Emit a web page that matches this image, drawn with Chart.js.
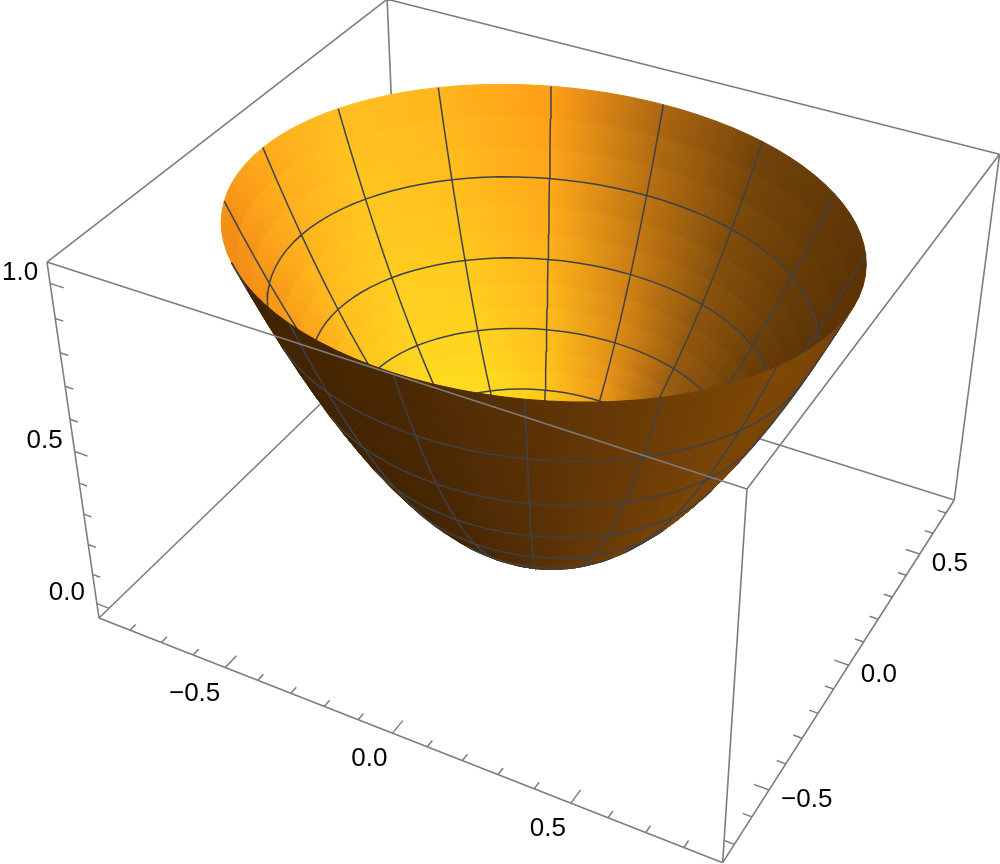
<!DOCTYPE html>
<html>
<head>
<meta charset="utf-8">
<title>Bowl</title>
<style>
  html, body { margin: 0; padding: 0; background: #fff; }
  canvas { display: block; }
</style>
<script src="https://cdn.jsdelivr.net/npm/chart.js@4"></script>
</head>
<body>
<canvas id="bowl" width="1000" height="864"></canvas>
<script>
// axis ranges of the box
const xRange = [-0.9, 0.9];
const yRange = [-0.765, 0.765];
const zRange = [-0.05, 1.06];

// ticks
const xTicks = [-0.8, -0.7, -0.6, -0.5, -0.4, -0.3, -0.2, -0.1, 0, 0.1, 0.2, 0.3, 0.4, 0.5, 0.6, 0.7, 0.8];
const yTicks = [-0.7, -0.6, -0.5, -0.4, -0.3, -0.2, -0.1, 0, 0.1, 0.2, 0.3, 0.4, 0.5, 0.6, 0.7];
const zTicks = [0, 0.1, 0.2, 0.3, 0.4, 0.5, 0.6, 0.7, 0.8, 0.9, 1];
const majorTicks = [-0.5, 0, 0.5, 1];
const xLabels = ['\u22120.5', '0.0', '0.5'];
const yLabels = ['\u22120.5', '0.0', '0.5'];
const zLabels = ['0.0', '0.5', '1.0'];
const xLabelValues = [-0.5, 0, 0.5];
const yLabelValues = [-0.5, 0, 0.5];
const zLabelValues = [0, 0.5, 1];

// surface: rim half widths, ring fractions and ring heights
const rimX = 0.81;
const rimY = 0.69;
const ringFractions = [0, 0.0417, 0.0833, 0.125, 0.1667, 0.2083, 0.25, 0.2917, 0.3333, 0.375, 0.4167, 0.4583, 0.5,
  0.5417, 0.5833, 0.625, 0.6667, 0.7083, 0.75, 0.7917, 0.8333, 0.875, 0.9167, 0.9583, 1];
const ringHeights = [0, 0.0017, 0.0069, 0.0156, 0.0278, 0.0434, 0.0625, 0.0851, 0.1111, 0.1406, 0.1736, 0.2101, 0.25,
  0.2934, 0.3403, 0.3906, 0.4444, 0.5017, 0.5625, 0.6267, 0.6944, 0.7656, 0.8403, 0.9184, 1];
const sectorAngles = [0, 3.75, 7.5, 11.25, 15, 18.75, 22.5, 26.25, 30, 33.75, 37.5, 41.25, 45, 48.75, 52.5, 56.25,
  60, 63.75, 67.5, 71.25, 75, 78.75, 82.5, 86.25, 90, 93.75, 97.5, 101.25, 105, 108.75, 112.5, 116.25,
  120, 123.75, 127.5, 131.25, 135, 138.75, 142.5, 146.25, 150, 153.75, 157.5, 161.25, 165, 168.75, 172.5, 176.25,
  180, 183.75, 187.5, 191.25, 195, 198.75, 202.5, 206.25, 210, 213.75, 217.5, 221.25, 225, 228.75, 232.5, 236.25,
  240, 243.75, 247.5, 251.25, 255, 258.75, 262.5, 266.25, 270, 273.75, 277.5, 281.25, 285, 288.75, 292.5, 296.25,
  300, 303.75, 307.5, 311.25, 315, 318.75, 322.5, 326.25, 330, 333.75, 337.5, 341.25, 345, 348.75, 352.5, 356.25];

// shading by azimuth, one colour every 22.5 degrees
const insideRim = ['#5a3205', '#5c3305', '#613806', '#6f4209', '#a86410', '#ff9c18', '#ffb51d', '#ffbe20',
  '#ffa81c', '#f59016', '#f08a15', '#ff9a18', '#ffb020', '#ffc81e', '#a86410', '#6a3f08'];
const insideLow = ['#5a3205', '#5e3506', '#7a4a0c', '#a86410', '#f09a18', '#ffc81c', '#ffdc20', '#ffdc20',
  '#ffd01f', '#ffb01c', '#ff9a18', '#ffa01a', '#ffc020', '#ffd01e', '#a86410', '#6a3f08'];
const outside = ['#7a4506', '#7a4506', '#7a4506', '#6a3b06', '#5a3106', '#4c2a04', '#452503', '#402203',
  '#3f2203', '#3f2203', '#3f2203', '#442502', '#4a2803', '#5a3106', '#6e3d06', '#7e4706'];

// perspective camera for the unit box, fitted on the box corners
const camX = [543.1, 371.7, -56.94, 99];
const camY = [148.5, -235.3, -383.5, 618];
const camD = [-0.1115, 0.1739, -0.1051, 1];

const canvas = document.getElementById('bowl');
const ctx2d = canvas.getContext('2d');

function project(x, y, z) {
  const u = (x - xRange[0]) / (xRange[1] - xRange[0]);
  const v = (y - yRange[0]) / (yRange[1] - yRange[0]);
  const w = (z - zRange[0]) / (zRange[1] - zRange[0]);
  const dot = c => c[0] * u + c[1] * v + c[2] * w + c[3];
  return { x: dot(camX) / dot(camD), y: dot(camY) / dot(camD) };
}

function surfacePoint(ring, sector) {
  const a = sectorAngles[sector % sectorAngles.length] * Math.PI / 180;
  const f = ringFractions[ring];
  return project(rimX * f * Math.cos(a), rimY * f * Math.sin(a), ringHeights[ring]);
}

function hexToRgb(h) {
  return [1, 3, 5].map(i => parseInt(h.substr(i, 2), 16));
}

function tableColor(table, angle) {
  const p = (angle % 360) / 22.5;
  const i = Math.floor(p);
  const t = p - i;
  const a = hexToRgb(table[i % 16]);
  const b = hexToRgb(table[(i + 1) % 16]);
  return a.map((c, k) => c + (b[k] - c) * t);
}

function insideColor(angle, f) {
  const t = Math.min(1, Math.max(0, (1 - f) / 0.5));
  const a = tableColor(insideRim, angle);
  const b = tableColor(insideLow, angle);
  return a.map((c, k) => c + (b[k] - c) * t);
}

function outsideColor(angle, f) {
  return tableColor(outside, angle).map(v => v * (0.9 + 0.1 * f));
}

function css(c) {
  return 'rgb(' + c.map(Math.round).join(',') + ')';
}

// true when we look at the outside of the bowl on this patch
function seenFromOutside(ring, sector) {
  const a = surfacePoint(ring, sector);
  const b = surfacePoint(ring + 1, sector);
  const c = surfacePoint(ring + 1, sector + 1);
  return (b.x - a.x) * (c.y - b.y) - (b.y - a.y) * (c.x - b.x) > 0;
}

const gap = { x: NaN, y: NaN };
const bands = ringFractions.length - 1;
const sectors = sectorAngles.length;

// patch colour runs smoothly from one sector line to the next
function patchPaint(ring, sector, colorAt) {
  const f = (ringFractions[ring] + ringFractions[ring + 1]) / 2;
  const p = surfacePoint(ring, sector);
  const q = surfacePoint(ring + 1, sector);
  const r = surfacePoint(ring, sector + 1);
  const s = surfacePoint(ring + 1, sector + 1);
  const g = ctx2d.createLinearGradient((p.x + q.x) / 2, (p.y + q.y) / 2, (r.x + s.x) / 2, (r.y + s.y) / 2);
  g.addColorStop(0, css(colorAt(sectorAngles[sector], f)));
  g.addColorStop(1, css(colorAt(sectorAngles[(sector + 1) % sectors], f)));
  return g;
}

function patchDataset(ring, sector, paint) {
  const data = [surfacePoint(ring, sector), surfacePoint(ring + 1, sector),
    surfacePoint(ring + 1, sector + 1), surfacePoint(ring, sector + 1), surfacePoint(ring, sector)];
  return { data: data, showLine: true, fill: 'shape', backgroundColor: paint, borderColor: paint, borderWidth: 1, pointRadius: 0 };
}

function lineDataset(points, color, width) {
  return { data: points, showLine: true, fill: false, spanGaps: false, borderColor: color, borderWidth: width, pointRadius: 0 };
}

const insidePatches = [];
const outsidePatches = [];
const insideMesh = [];
const outsideMesh = [];

for (let r = 0; r < bands; r++) {
  for (let s = 0; s < sectors; s++) {
    if (seenFromOutside(r, s)) {
      outsidePatches.push(patchDataset(r, s, patchPaint(r, s, outsideColor)));
    } else {
      insidePatches.push(patchDataset(r, s, patchPaint(r, s, insideColor)));
    }
  }
}

// mesh: every sixth sector line and every third ring, rim excluded
function addSegment(a, b, outsideFlags) {
  if (outsideFlags.includes(false)) insideMesh.push(a, b, gap);
  if (outsideFlags.includes(true)) outsideMesh.push(a, b, gap);
}
for (let s = 0; s < sectors; s += 6) {
  for (let r = 0; r < bands; r++) {
    addSegment(surfacePoint(r, s), surfacePoint(r + 1, s),
      [seenFromOutside(r, s), seenFromOutside(r, (s + sectors - 1) % sectors)]);
  }
}
for (let r = 3; r < bands; r += 3) {
  for (let s = 0; s < sectors; s++) {
    addSegment(surfacePoint(r, s), surfacePoint(r, s + 1),
      [seenFromOutside(r, s), seenFromOutside(r - 1, s)]);
  }
}

// box
const [x0, x1] = xRange;
const [y0, y1] = yRange;
const [z0, z1] = zRange;
function edge(a, b) {
  return [project(a[0], a[1], a[2]), project(b[0], b[1], b[2]), gap];
}
const boxBack = [].concat(
  edge([x0, y0, z0], [x0, y1, z0]), edge([x0, y1, z0], [x1, y1, z0]),
  edge([x0, y1, z0], [x0, y1, z1]), edge([x0, y0, z1], [x0, y1, z1]),
  edge([x0, y1, z1], [x1, y1, z1]), edge([x1, y0, z1], [x1, y1, z1]),
  edge([x1, y1, z0], [x1, y1, z1])
);
const boxFront = [].concat(
  edge([x0, y0, z0], [x1, y0, z0]), edge([x1, y0, z0], [x1, y1, z0]),
  edge([x0, y0, z0], [x0, y0, z1]), edge([x1, y0, z0], [x1, y0, z1]),
  edge([x0, y0, z1], [x1, y0, z1])
);

const tickMarks = [];
function isMajor(t) {
  return majorTicks.some(m => Math.abs(m - t) < 1e-6);
}
xTicks.forEach(t => {
  const len = isMajor(t) ? 0.05 : 0.025;
  tickMarks.push(...edge([t, y0, z0], [t, y0 + len, z0]));
});
yTicks.forEach(t => {
  const len = isMajor(t) ? 0.04 : 0.024;
  tickMarks.push(...edge([x1, t, z0], [x1 - len, t, z0]));
});
zTicks.forEach(t => {
  const len = isMajor(t) ? 0.04 : 0.024;
  tickMarks.push(...edge([x0, y0, t], [x0 + len, y0, t]));
});

const frameColor = 'rgb(125,125,125)';
const meshColor = 'rgb(62,66,72)';

// bottom to top, reversed below since Chart.js paints the first dataset last
const layers = [
  lineDataset(boxBack, frameColor, 1.6),
  ...insidePatches,
  lineDataset(insideMesh, meshColor, 1.5),
  ...outsidePatches,
  lineDataset(outsideMesh, meshColor, 1.5),
  lineDataset(boxFront, frameColor, 1.6),
  lineDataset(tickMarks, frameColor, 1.5)
];

const tickLabelsPlugin = {
  id: 'tickLabels',
  afterDatasetsDraw(chart) {
    const ctx = chart.ctx;
    ctx.save();
    ctx.font = '26px "Liberation Sans", Arial, sans-serif';
    ctx.fillStyle = '#000';
    ctx.textBaseline = 'middle';
    ctx.textAlign = 'right';
    xLabelValues.forEach((v, i) => {
      const p = project(v, y0, z0);
      ctx.fillText(xLabels[i], p.x - 5, p.y + 26);
    });
    zLabelValues.forEach((v, i) => {
      const p = project(x0, y0, v);
      ctx.fillText(zLabels[i], p.x - 12, p.y - 11);
    });
    ctx.textAlign = 'left';
    yLabelValues.forEach((v, i) => {
      const p = project(x1, v, z0);
      ctx.fillText(yLabels[i], p.x + 12, p.y + 10);
    });
    ctx.restore();
  }
};

new Chart(canvas, {
  type: 'scatter',
  data: { datasets: layers.reverse() },
  plugins: [tickLabelsPlugin],
  options: {
    responsive: false,
    animation: false,
    events: [],
    layout: { padding: 0 },
    plugins: { legend: { display: false }, tooltip: { enabled: false } },
    elements: { line: { tension: 0 } },
    scales: {
      x: { type: 'linear', display: false, min: 0, max: 1000 },
      y: { type: 'linear', display: false, min: 0, max: 864, reverse: true }
    }
  }
});
</script>
</body>
</html>
